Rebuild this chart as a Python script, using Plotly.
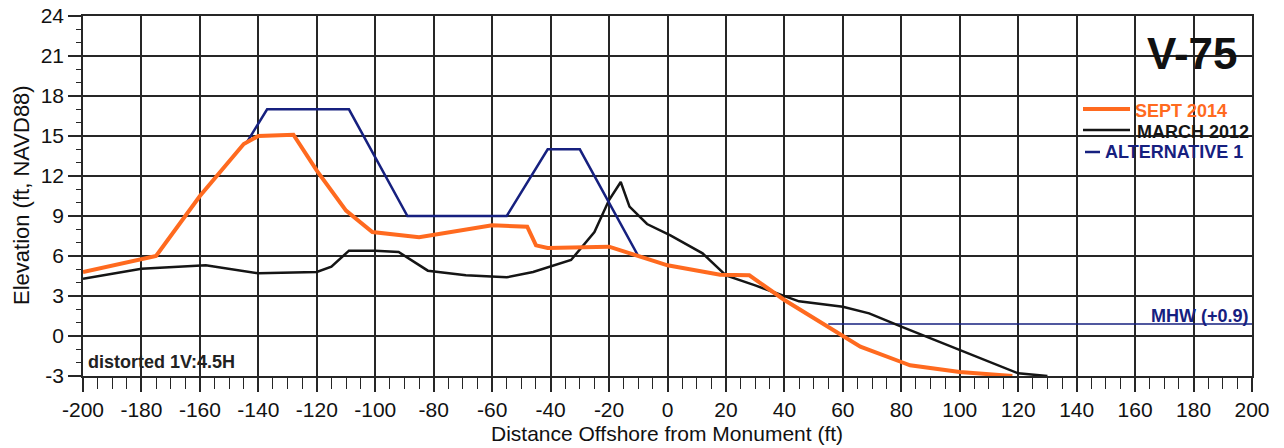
import plotly.graph_objects as go

# ---- data ----
sept2014_x = [-200, -175, -160, -153, -145, -140, -128, -120, -110, -101, -85, -60, -48, -45, -41, -20, -10, 0, 18, 28, 40, 55, 60, 66, 80, 83, 100, 118]
sept2014_y = [4.8, 6.0, 10.5, 12.3, 14.4, 15.0, 15.1, 12.4, 9.4, 7.8, 7.4, 8.3, 8.2, 6.8, 6.6, 6.7, 6.0, 5.3, 4.6, 4.55, 2.7, 0.7, 0.0, -0.8, -1.95, -2.2, -2.7, -3.0]

march2012_x = [-200, -180, -158, -140, -120, -115, -109, -100, -92, -82, -69, -55, -46, -33, -25, -20, -16, -13, -7, 1, 12, 20, 30, 45, 60, 69, 80, 100, 120, 130]
march2012_y = [4.3, 5.05, 5.3, 4.7, 4.8, 5.2, 6.4, 6.4, 6.3, 4.9, 4.55, 4.4, 4.8, 5.7, 7.8, 10.2, 11.55, 9.7, 8.4, 7.55, 6.2, 4.55, 3.8, 2.6, 2.2, 1.7, 0.7, -1.07, -2.8, -3.0]

alt1_x = [-144, -137, -109, -89, -55, -41, -30, -10]
alt1_y = [14.5, 17, 17, 9, 9, 14, 14, 6]

mhw_x = [55, 200]
mhw_y = [0.9, 0.9]

x_ticks = list(range(-200, 201, 20))
y_ticks = list(range(-3, 25, 3))

ORANGE = "#FF6A1F"
BLACK = "#151515"
NAVY = "#16207F"
GRID = "#262626"
FONT = "Liberation Sans, Arial, sans-serif"

fig = go.Figure()
fig.add_trace(go.Scatter(x=mhw_x, y=mhw_y, mode="lines", line=dict(color=NAVY, width=1.3), showlegend=False))
fig.add_trace(go.Scatter(x=march2012_x, y=march2012_y, mode="lines", line=dict(color=BLACK, width=2.5), showlegend=False))
fig.add_trace(go.Scatter(x=alt1_x, y=alt1_y, mode="lines", line=dict(color=NAVY, width=2.5), showlegend=False))
fig.add_trace(go.Scatter(x=sept2014_x, y=sept2014_y, mode="lines", line=dict(color=ORANGE, width=4), showlegend=False))

# plot area in pixels
L, R, T, B = 83, 1252, 16, 376
W, H = R - L, B - T
def px(x):
    return (x - L) / W
def py(y):
    return (B - y) / H

# custom legend (lines + coloured labels)
legend_items = [("SEPT 2014", ORANGE, 4, 1083, 1130, 109, 1133, 111),
                ("MARCH 2012", BLACK, 2.5, 1083, 1130, 130, 1135, 132),
                ("ALTERNATIVE 1", NAVY, 2.5, 1085, 1100, 152, 1103, 152)]
for name, col, w, x0, x1, ly, tx, ty in legend_items:
    fig.add_shape(type="line", xref="paper", yref="paper", x0=px(x0), x1=px(x1), y0=py(ly), y1=py(ly),
                  line=dict(color=col, width=w))
    fig.add_annotation(text="<b>%s</b>" % name, xref="paper", yref="paper", x=px(tx), y=py(ty),
                       xanchor="left", yanchor="middle", showarrow=False,
                       font=dict(family=FONT, size=18, color=col))

fig.add_annotation(text="<b>V-75</b>", xref="paper", yref="paper", x=px(1240), y=py(54),
                   xanchor="right", yanchor="middle", showarrow=False,
                   font=dict(family=FONT, size=44, color="#111"))
fig.add_annotation(text="<b>MHW (+0.9)</b>", xref="paper", yref="paper", x=px(1251), y=py(316),
                   xanchor="right", yanchor="middle", showarrow=False,
                   font=dict(family=FONT, size=18, color=NAVY))
fig.add_annotation(text="<b>distorted 1V:4.5H</b>", xref="paper", yref="paper", x=px(86), y=py(362),
                   xanchor="left", yanchor="middle", showarrow=False,
                   font=dict(family=FONT, size=18, color="#222"))
fig.add_annotation(text="Distance Offshore from Monument (ft)", xref="paper", yref="paper",
                   x=px(667), y=py(447), xanchor="center", yanchor="bottom", showarrow=False,
                   font=dict(family=FONT, size=21, color="#111"))
fig.add_annotation(text="Elevation (ft, NAVD88)", xref="paper", yref="paper", textangle=-90,
                   x=px(21), y=py(195), xanchor="center", yanchor="middle", showarrow=False,
                   font=dict(family=FONT, size=22, color="#111"))

fig.update_layout(
    width=1284, height=448,
    margin=dict(l=L, r=1284 - R, t=T, b=448 - B),
    paper_bgcolor="white", plot_bgcolor="white",
    font=dict(family=FONT, size=21, color="#111"),
    showlegend=False,
)
fig.update_xaxes(
    range=[-200, 200], tickvals=x_ticks, ticktext=[str(v) for v in x_ticks],
    showgrid=True, gridcolor=GRID, gridwidth=1.6,
    showline=True, linecolor=GRID, linewidth=1.6, mirror=True,
    ticks="outside", ticklen=14, tickwidth=1.6, tickcolor=GRID,
    tickfont=dict(size=21, color="#111"),
    minor=dict(dtick=5, ticks="outside", ticklen=11, tickwidth=1.4, tickcolor=GRID, showgrid=False),
    zeroline=False, automargin=False,
)
fig.update_yaxes(
    range=[-3, 24], tickvals=y_ticks, ticktext=[str(v) for v in y_ticks],
    showgrid=True, gridcolor=GRID, gridwidth=1.6,
    showline=True, linecolor=GRID, linewidth=1.6, mirror=True,
    ticks="outside", ticklen=13, tickwidth=1.6, tickcolor=GRID,
    tickfont=dict(size=21, color="#111"),
    minor=dict(dtick=1, ticks="outside", ticklen=5, tickwidth=1.4, tickcolor=GRID, showgrid=False),
    zeroline=False, automargin=False,
)

fig.write_html("out.html")
